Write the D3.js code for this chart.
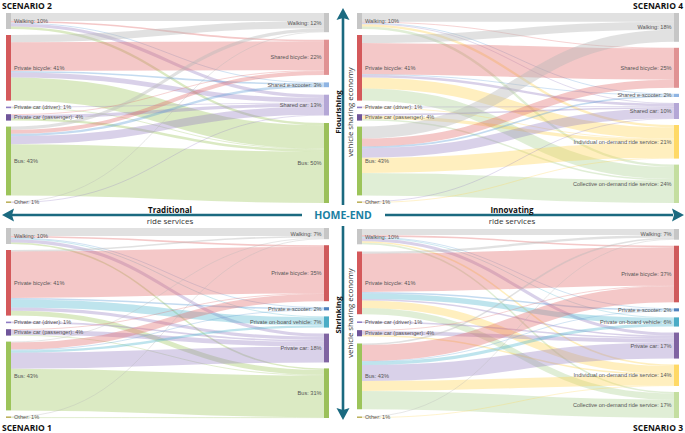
<!DOCTYPE html>
<html><head><meta charset="utf-8">
<script src="https://cdn.jsdelivr.net/npm/d3@7"></script>
<style>body{margin:0;background:#fff}svg{display:block}</style>
</head><body><svg id="c" width="685" height="433"></svg>
<script>
// ---------- DATA ----------
const sources = ["Walking","Private bicycle","Private car (driver)","Private car (passenger)","Bus","Other"];
const sourceValues = [10,41,1,4,43,1];

const s1Targets = ["Walking","Private bicycle","Private e-scooter","Private on-board vehicle","Private car","Bus"];
const s1Values = [7,35,2,7,18,31];
const s1Flows = [
  [5,1,0.5,0.5,2,1],
  [1,29,1,5,2,3],
  [0,0,0,0,1,0],
  [0,0.5,0,0,3,0.5],
  [0.5,4.5,0.5,1.5,10,26],
  [0.5,0,0,0,0,0.5]
];

const s2Targets = ["Walking","Shared bicycle","Shared e-scooter","Shared car","Bus"];
const s2Values = [12,22,3,13,50];
const s2Flows = [
  [5,1,0.5,2,1.5],
  [4.5,18,1,3,14.5],
  [0,0,0,0.5,0.5],
  [0,0.5,0,2,1.5],
  [2,2.5,1.5,5,32],
  [0.5,0,0,0.5,0]
];

const s3Targets = ["Walking","Private bicycle","Private e-scooter","Private on-board vehicle","Private car","Individual on-demand ride service","Collective on-demand ride service"];
const s3Values = [7,37,2,6,17,14,17];
const s3Flows = [
  [4,1,0.5,0.5,2,1,1],
  [1.5,25,1,3.5,1,5,4],
  [0,0,0,0,1,0,0],
  [0,0.5,0,0,2.5,1,0],
  [1,10.5,0.5,2,10.5,6.5,12],
  [0.5,0,0,0,0,0.5,0]
];

const s4Targets = ["Walking","Shared bicycle","Shared e-scooter","Shared car","Individual on-demand ride service","Collective on-demand ride service"];
const s4Values = [18,25,2,10,21,24];
const s4Flows = [
  [5.5,0.5,0.5,0.5,1.5,1.5],
  [5,19.5,0.5,1.5,7,7.5],
  [0,0,0,0.5,0.5,0],
  [0,0,0,1,2,1],
  [7.5,5,1,6,9.5,14],
  [0,0,0,0.5,0.5,0]
];

// ---------- STYLE ----------
const sourceColors = ["#c6c6c6","#d4595b","#8e7cc3","#6f559a","#9cc45a","#bdb25e"];
const nodeColor = {
  "Walking":"#c6c6c6",
  "Private bicycle":"#cf5a5c","Shared bicycle":"#e09293",
  "Private e-scooter":"#4f81bd","Shared e-scooter":"#8eb4e3",
  "Private on-board vehicle":"#4bacc6",
  "Private car":"#8064a2","Shared car":"#b4a7d6",
  "Bus":"#9bc05a",
  "Individual on-demand ride service":"#ffd966",
  "Collective on-demand ride service":"#c4dea0"
};
const linkColor = {
  "Walking":"#b8b8b8",
  "Private bicycle":"#e06666","Shared bicycle":"#e06666",
  "Private e-scooter":"#5b9bd5","Shared e-scooter":"#5b9bd5",
  "Private on-board vehicle":"#4bb3cc",
  "Private car":"#9580c2","Shared car":"#9580c2",
  "Bus":"#9bc45a",
  "Individual on-demand ride service":"#ffd34d",
  "Collective on-demand ride service":"#a9d18e"
};

const svg = d3.select("#c");
const FONT = "'Liberation Sans', Arial, sans-serif";
const HFONT = "'Open Sans', 'Noto Sans', sans-serif";

function drawSankey(cfg) {
  const {xL, xR, y0, y1, targets, tValues, flows} = cfg;
  const bw = 5, pad = 6;
  const total = d3.sum(sourceValues);
  const maxN = Math.max(sources.length, targets.length);
  const ky = (y1 - y0 - (maxN - 1) * pad) / total;
  const h = d3.scaleLinear().domain([0, total]).range([0, total * ky]);

  function column(vals) {
    const gap = (y1 - y0 - h(d3.sum(vals))) / (vals.length - 1);
    let y = y0;
    return vals.map(v => { const n = {y0: y, y1: y + h(v)}; y = n.y1 + gap; return n; });
  }
  const sN = column(sourceValues);
  const tN = column(tValues);

  const g = svg.append("g");
  const lg = g.append("g").attr("fill", "none");
  const sOff = sN.map(n => n.y0);
  const tOff = tN.map(n => n.y0);
  const links = [];
  for (let i = 0; i < sources.length; i++) {
    for (let j = 0; j < targets.length; j++) {
      const v = flows[i][j];
      if (!v) continue;
      links.push({i, j, v, sy: sOff[i] + h(v) / 2});
      sOff[i] += h(v);
    }
  }
  for (let j = 0; j < targets.length; j++) {
    for (let i = 0; i < sources.length; i++) {
      const L = links.find(l => l.i === i && l.j === j);
      if (!L) continue;
      L.ty = tOff[j] + h(L.v) / 2;
      tOff[j] += h(L.v);
    }
  }
  const lh = d3.linkHorizontal();
  lg.selectAll("path").data(links).join("path")
    .attr("d", d => lh({source: [xL + bw, d.sy], target: [xR, d.ty]}))
    .attr("stroke", d => linkColor[targets[d.j]])
    .attr("stroke-opacity", d => targets[d.j] === "Walking" ? 0.42 : 0.36)
    .attr("stroke-width", d => Math.max(0.6, h(d.v)));

  g.append("g").selectAll("rect").data(sN).join("rect")
    .attr("x", xL).attr("width", bw)
    .attr("y", d => d.y0).attr("height", d => Math.max(1.5, d.y1 - d.y0))
    .attr("fill", (d, i) => sourceColors[i]);
  g.append("g").selectAll("rect").data(tN).join("rect")
    .attr("x", xR).attr("width", bw)
    .attr("y", d => d.y0).attr("height", d => Math.max(1.5, d.y1 - d.y0))
    .attr("fill", (d, j) => nodeColor[targets[j]]);

  g.append("g").selectAll("text").data(sN).join("text")
    .attr("x", xL + bw + 3).attr("y", d => (d.y0 + d.y1) / 2).attr("dy", "0.35em")
    .attr("font-family", FONT).attr("font-size", 5.6).attr("fill", "#555")
    .text((d, i) => sources[i] + ": " + sourceValues[i] + "%");
  g.append("g").selectAll("text").data(tN).join("text")
    .attr("x", xR - 2.5).attr("y", d => (d.y0 + d.y1) / 2).attr("dy", "0.35em")
    .attr("text-anchor", "end")
    .attr("font-family", FONT).attr("font-size", 5.6).attr("fill", "#555")
    .text((d, j) => targets[j] + ": " + tValues[j] + "%");
}

drawSankey({xL: 6, xR: 324, y0: 13, y1: 203, targets: s2Targets, tValues: s2Values, flows: s2Flows});
drawSankey({xL: 357, xR: 674, y0: 13, y1: 203, targets: s4Targets, tValues: s4Values, flows: s4Flows});
drawSankey({xL: 6, xR: 324, y0: 228, y1: 418, targets: s1Targets, tValues: s1Values, flows: s1Flows});
drawSankey({xL: 357, xR: 674, y0: 229, y1: 418, targets: s3Targets, tValues: s3Values, flows: s3Flows});

// ---------- AXES / ANNOTATIONS ----------
const AX = "#1b6a80";
const ax = svg.append("g");
ax.append("line").attr("x1", 12).attr("x2", 302).attr("y1", 215).attr("y2", 215).attr("stroke", AX).attr("stroke-width", 2.6);
ax.append("line").attr("x1", 385).attr("x2", 673).attr("y1", 215).attr("y2", 215).attr("stroke", AX).attr("stroke-width", 2.6);
ax.append("path").attr("d", "M2,215 L14,208.5 L12,215 L14,221.5 Z").attr("fill", AX);
ax.append("path").attr("d", "M684,215 L672,208.5 L674,215 L672,221.5 Z").attr("fill", AX);
ax.append("line").attr("x1", 343).attr("x2", 343).attr("y1", 18).attr("y2", 205).attr("stroke", AX).attr("stroke-width", 2.6);
ax.append("line").attr("x1", 343).attr("x2", 343).attr("y1", 226).attr("y2", 410).attr("stroke", AX).attr("stroke-width", 2.6);
ax.append("path").attr("d", "M343,8 L336.5,20 L343,18 L349.5,20 Z").attr("fill", AX);
ax.append("path").attr("d", "M343,420 L336.5,408 L343,410 L349.5,408 Z").attr("fill", AX);

ax.append("text").attr("x", 343).attr("y", 219).attr("text-anchor", "middle")
  .attr("font-family", HFONT).attr("font-weight", "bold").attr("font-size", 10.5).attr("fill", "#1a80a2").text("HOME-END");

function label(x, y, t, bold, rot, size) {
  return ax.append("text").attr("transform", `translate(${x},${y})` + (rot ? " rotate(-90)" : ""))
    .attr("text-anchor", "middle").attr("font-family", HFONT)
    .attr("font-size", size || 7.5).attr("fill", bold ? "#111" : "#333")
    .attr("font-weight", bold ? "bold" : "normal").text(t);
}
label(170, 212.5, "Traditional", true, false, 8);
label(170, 224, "ride services", false, false, 8);
label(512, 212.5, "Innovating", true, false, 8);
label(512, 224, "ride services", false, false, 8);
label(340.5, 112, "Flourishing", true, true, 7.8);
label(353, 112, "vehicle sharing economy", false, true, 7.8);
label(340.5, 315, "Shrinking", true, true, 7.8);
label(353, 313, "vehicle sharing economy", false, true, 7.8);

function title(x, y, t, anchor) {
  svg.append("text").attr("x", x).attr("y", y).attr("text-anchor", anchor)
    .attr("font-family", HFONT).attr("font-weight", "bold").attr("font-size", 8.5).attr("fill", "#111").text(t);
}
title(2, 9, "SCENARIO 2", "start");
title(683, 9, "SCENARIO 4", "end");
title(2, 431, "SCENARIO 1", "start");
title(683, 431, "SCENARIO 3", "end");
</script></body></html>
